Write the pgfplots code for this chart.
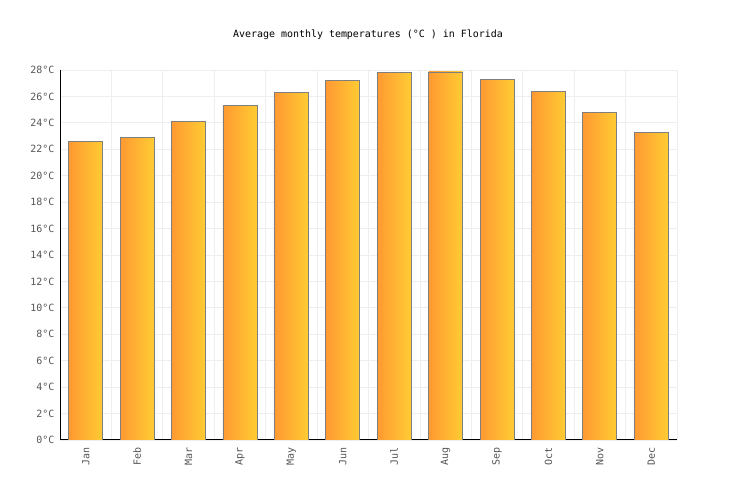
\documentclass[border=0pt]{standalone}
\usepackage{pgfplots}
\pgfplotsset{compat=1.18}
\usepackage{fontspec}
\setmainfont{DejaVu Sans Mono}
\definecolor{barleft}{HTML}{FF9933}
\definecolor{barright}{HTML}{FFCC33}
\definecolor{baredge}{HTML}{7F7F7F}
\definecolor{gridc}{HTML}{EEEEEE}
\definecolor{tickc}{HTML}{555555}

% one shaded bar per month, so each bar gets its own gradient
\newcommand\monthbar[2]{%
  \addplot[ybar, bar width=34bp, bar shift=0pt, draw=baredge, line width=0.9bp,
    left color=barleft, right color=barright] coordinates {(#1,#2)};}

\begin{document}
\begin{tikzpicture}[x=1bp,y=1bp]
\useasboundingbox (0,0) rectangle (736,500);
\node[font=\fontsize{10}{12}\selectfont] at (368,465) {Average monthly temperatures (°C ) in Florida};
\begin{axis}[
    at={(60bp,60bp)}, anchor=south west,
    scale only axis,
    width=617bp, height=370bp,
    xmin=-0.5, xmax=11.5,
    ymin=0, ymax=28,
    ytick={0,2,...,28},
    yticklabel={\pgfmathprintnumber{\tick}°C},
    xtick={0,...,11},
    xticklabels={Jan,Feb,Mar,Apr,May,Jun,Jul,Aug,Sep,Oct,Nov,Dec},
    x tick label style={rotate=90, anchor=east},
    minor xtick={0.5,1.5,...,11.5},
    xminorgrids, ymajorgrids,
    grid style={gridc, line width=0.8bp},
    minor grid style={gridc, line width=0.8bp},
    major tick length=0pt, minor tick length=0pt,
    axis x line*=bottom, axis y line*=left,
    axis line style={black, line width=1bp, -},
    tick label style={font=\fontsize{10}{12}\selectfont, text=tickc},
    /pgf/number format/assume math mode=true,
    xticklabel shift=4bp, yticklabel shift=2bp,
]
\monthbar{0}{22.6}
\monthbar{1}{22.9}
\monthbar{2}{24.1}
\monthbar{3}{25.3}
\monthbar{4}{26.3}
\monthbar{5}{27.2}
\monthbar{6}{27.8}
\monthbar{7}{27.85}
\monthbar{8}{27.3}
\monthbar{9}{26.4}
\monthbar{10}{24.8}
\monthbar{11}{23.3}
\end{axis}
\end{tikzpicture}
\end{document}
